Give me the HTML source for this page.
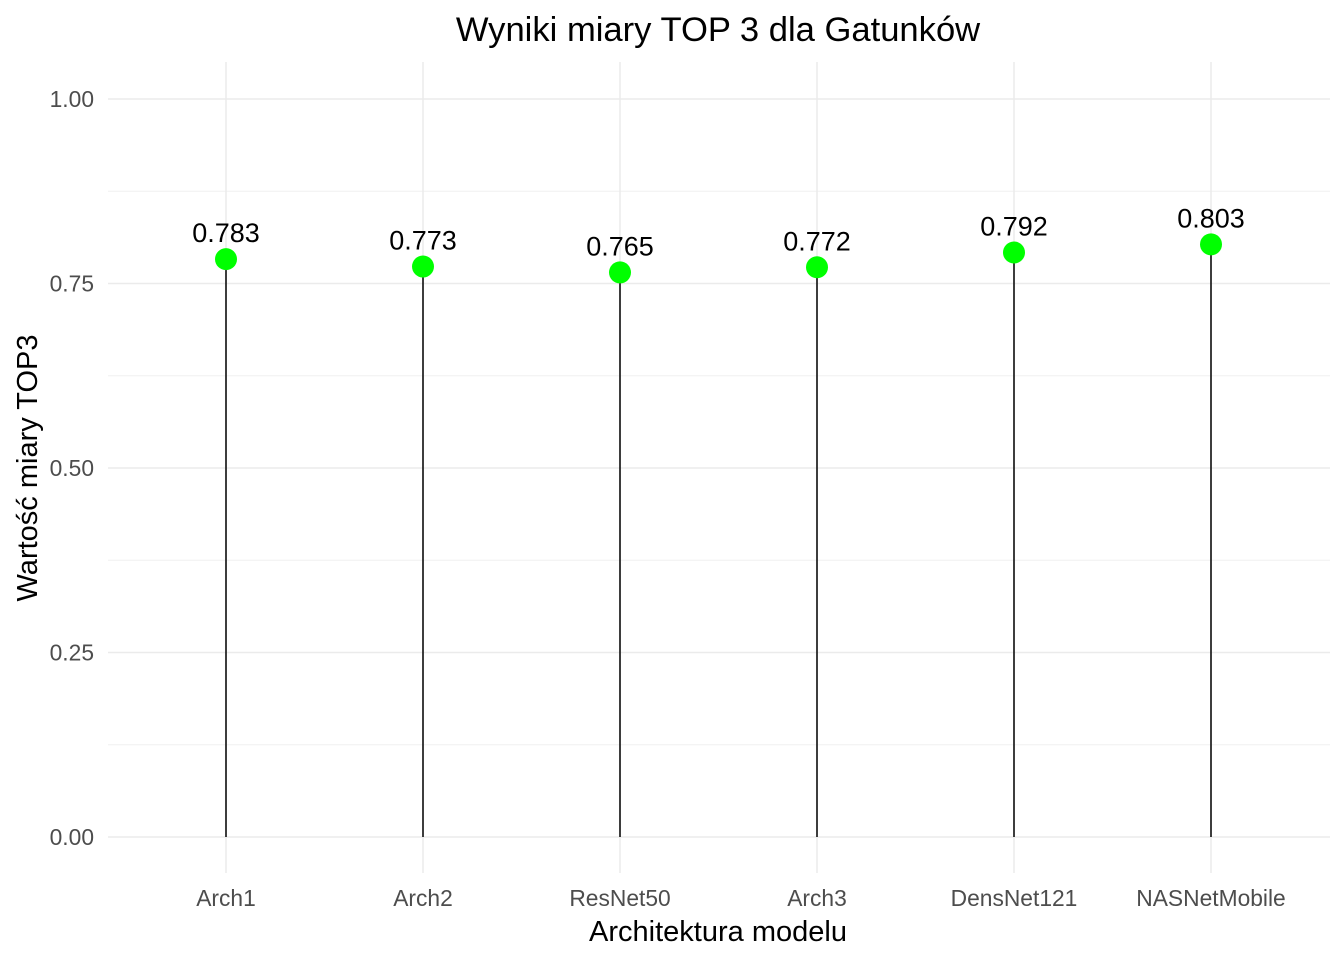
<!DOCTYPE html>
<html><head><meta charset="utf-8"><style>
html,body{margin:0;padding:0;background:#fff;}
svg{display:block;font-family:"Liberation Sans",Arial,sans-serif;}
</style></head><body>
<svg id="chart" width="1344" height="960" viewBox="0 0 1344 960">
<rect width="1344" height="960" fill="#fff"/>
<g id="grid"></g>
<g id="marks"></g>
<g id="axes"></g>
<text x="718" y="41" text-anchor="middle" font-size="34.6" fill="#000">Wyniki miary TOP 3 dla Gatunków</text>
<text x="718" y="941" text-anchor="middle" font-size="29" fill="#000">Architektura modelu</text>
<text transform="translate(37,468) rotate(-90)" text-anchor="middle" font-size="29" fill="#000">Wartość miary TOP3</text>
</svg>
<script>
const categories = ["Arch1","Arch2","ResNet50","Arch3","DensNet121","NASNetMobile"];
const values = [0.783,0.773,0.765,0.772,0.792,0.803];
const valueLabels = ["0.783","0.773","0.765","0.772","0.792","0.803"];
const yTicks = [0,0.25,0.5,0.75,1];
const yTickLabels = ["0.00","0.25","0.50","0.75","1.00"];
const yMinor = [0.125,0.375,0.625,0.875];

const NS="http://www.w3.org/2000/svg";
const panelL=108, panelR=1330, panelT=62, panelB=873;
const y=v=>837-v*738;
const x=i=>226+i*197;
function mk(tag,attrs,parent,text){const e=document.createElementNS(NS,tag);for(const k in attrs)e.setAttribute(k,attrs[k]);if(text!==undefined)e.textContent=text;parent.appendChild(e);return e;}
const grid=document.getElementById('grid'),marks=document.getElementById('marks'),axes=document.getElementById('axes');
yMinor.forEach(v=>{const l=mk('line',{x1:panelL,x2:panelR,y1:y(v),y2:y(v),stroke:'#f0f0f0','stroke-width':1},grid);

});
yTicks.forEach((v,i)=>{const l=mk('line',{x1:panelL,x2:panelR,y1:y(v),y2:y(v),stroke:'#ebebeb','stroke-width':1.5},grid);


const t=mk('text',{x:94,y:y(v)+8,'text-anchor':'end','font-size':22.8,fill:'#4d4d4d'},axes,yTickLabels[i]);

});
categories.forEach((c,i)=>{const l=mk('line',{x1:x(i),x2:x(i),y1:panelT,y2:panelB,stroke:'#ebebeb','stroke-width':1.5},grid);


const t=mk('text',{x:x(i),y:906,'text-anchor':'middle','font-size':22.8,fill:'#4d4d4d'},axes,c);


const s=mk('line',{x1:x(i),x2:x(i),y1:y(0),y2:y(values[i]),stroke:'#000','stroke-width':1.5},marks);


const p=mk('circle',{cx:x(i),cy:y(values[i]),r:11,fill:'#00ff00'},marks);


const vl=mk('text',{x:x(i),y:y(values[i])-17,'text-anchor':'middle','font-size':27,fill:'#000'},marks,valueLabels[i]);

});
</script>
</body></html>
